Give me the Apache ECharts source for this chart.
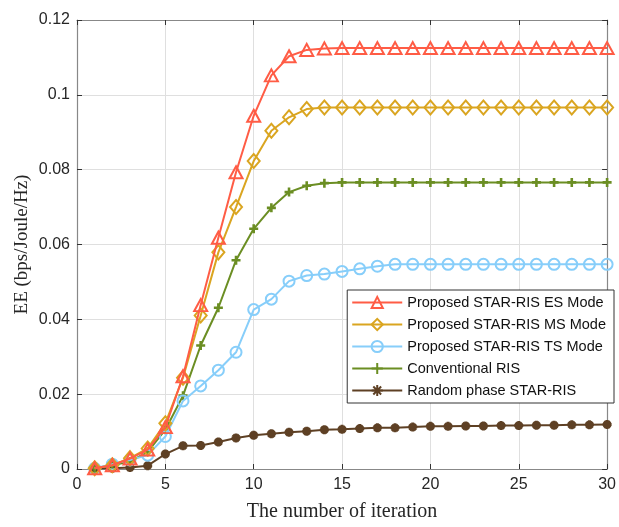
<!DOCTYPE html>
<html>
<head>
<meta charset="utf-8">
<script src="https://cdn.jsdelivr.net/npm/echarts@6/dist/echarts.min.js"></script>
<style>
html,body{margin:0;padding:0;background:#fff;}
#chart{width:619px;height:527px;}
</style>
</head>
<body>
<div id="chart"></div>
<script>
// ---- data ----
const iterations = [1,2,3,4,5,6,7,8,9,10,11,12,13,14,15,16,17,18,19,20,21,22,23,24,25,26,27,28,29,30];
const seriesNames = ['Proposed STAR-RIS ES Mode','Proposed STAR-RIS MS Mode','Proposed STAR-RIS TS Mode','Conventional RIS','Random phase STAR-RIS'];
const esMode = [0.0002,0.0010,0.0028,0.0052,0.0112,0.0248,0.0438,0.0618,0.0793,0.0944,0.1052,0.1103,0.1120,0.1124,0.1125,0.1125,0.1125,0.1125,0.1125,0.1125,0.1125,0.1125,0.1125,0.1125,0.1125,0.1125,0.1125,0.1125,0.1125,0.1125];
const msMode = [0.0002,0.0010,0.0029,0.0055,0.0122,0.0244,0.0410,0.0579,0.0700,0.0823,0.0904,0.0940,0.0962,0.0966,0.0966,0.0966,0.0966,0.0966,0.0966,0.0966,0.0966,0.0966,0.0966,0.0966,0.0966,0.0966,0.0966,0.0966,0.0966,0.0966];
const tsMode = [0.0002,0.0013,0.0024,0.0037,0.0087,0.0182,0.0222,0.0264,0.0312,0.0426,0.0454,0.0502,0.0517,0.0521,0.0528,0.0535,0.0542,0.0547,0.0547,0.0547,0.0547,0.0547,0.0547,0.0547,0.0547,0.0547,0.0547,0.0547,0.0547,0.0547];
const conventional = [0.0002,0.0010,0.0020,0.0046,0.0105,0.0196,0.0330,0.0431,0.0558,0.0642,0.0698,0.0740,0.0757,0.0764,0.0766,0.0766,0.0766,0.0766,0.0766,0.0766,0.0766,0.0766,0.0766,0.0766,0.0766,0.0766,0.0766,0.0766,0.0766,0.0766];
const randomPhase = [0.0002,0.0002,0.0004,0.0009,0.0040,0.0062,0.0063,0.0072,0.0083,0.0090,0.0094,0.0098,0.0101,0.0105,0.0106,0.0108,0.0110,0.0110,0.0112,0.0114,0.0114,0.0115,0.0115,0.0116,0.0116,0.0117,0.0117,0.0118,0.0118,0.0119];
const xTicks = [0,5,10,15,20,25,30];
const yTicks = ['0','0.02','0.04','0.06','0.08','0.1','0.12'];

// ---- styles ----
const colors = ['#FF5C45','#DAA520','#87CEFA','#6B8E23','#5E4024'];
const symbols = ['triangle','diamond','circle','path://M5,0L5,10M0,5L10,5','path://M5,0L5,10M0,5L10,5M1.5,1.5L8.5,8.5M8.5,1.5L1.5,8.5'];
const symbolSizes = [[13,12],[12,14],[11,11],[9,9],[9,9]];
const borderWidths = [2, 2, 2, 2.6, 3];
const dataSets = [esMode, msMode, tsMode, conventional, randomPhase];

const chart = echarts.init(document.getElementById('chart'), null, {renderer:'canvas'});
const axisLineColor = '#888888';
const labelFont = {fontFamily:'Liberation Sans, Arial, sans-serif', fontSize:16, color:'#262626'};

const series = dataSets.map((d, i) => ({
  name: seriesNames[i],
  type: 'line',
  xAxisIndex: 0, yAxisIndex: 0,
  data: iterations.map((x, k) => [x, d[k]]),
  symbol: symbols[i],
  symbolSize: symbolSizes[i],
  showAllSymbol: true,
  lineStyle: {color: colors[i], width: 2},
  itemStyle: {color: (i >= 3 ? colors[i] : 'rgba(255,255,255,0)'), borderColor: colors[i], borderWidth: borderWidths[i]},
  emphasis: {disabled: true},
  animation: false,
  z: 2 + (4 - i)
}));

chart.setOption({
  backgroundColor: '#ffffff',
  animation: false,
  grid: {left: 77, right: 6, top: 20, bottom: 53, containLabel: false},
  legend: {
    orient: 'vertical',
    right: 5, top: 290,
    backgroundColor: '#ffffff',
    borderColor: '#333333', borderWidth: 1,
    padding: [5, 8, 5, 4],
    itemWidth: 50, itemHeight: 14, itemGap: 7,
    textStyle: {fontFamily: 'Liberation Sans, Arial, sans-serif', fontSize: 14.5, color: '#111'},
    data: seriesNames
  },
  xAxis: [{
    type: 'value', min: 0, max: 30, interval: 5,
    name: 'The number of iteration', nameLocation: 'middle', nameGap: 33, nameMoveOverlap: false,
    nameTextStyle: {fontFamily: 'Liberation Serif, Times New Roman, serif', fontSize: 20, color: '#262626'},
    axisLine: {show: true, onZero: false, lineStyle: {color: axisLineColor, width: 1.2}},
    axisTick: {show: true, inside: true, length: 5, lineStyle: {color: '#333'}},
    axisLabel: Object.assign({margin: 8, formatter: v => String(v)}, labelFont),
    splitLine: {show: true, lineStyle: {color: '#dfdfdf', width: 1}}
  },{
    type: 'value', min: 0, max: 30, interval: 5, position: 'top',
    axisLine: {show: true, onZero: false, lineStyle: {color: axisLineColor, width: 1.2}},
    axisTick: {show: true, inside: true, length: 5, lineStyle: {color: '#333'}},
    axisLabel: {show: false}, splitLine: {show: false}
  }],
  yAxis: [{
    type: 'value', min: 0, max: 0.12, interval: 0.02,
    name: 'EE (bps/Joule/Hz)', nameLocation: 'middle', nameGap: 45, nameMoveOverlap: false,
    nameTextStyle: {fontFamily: 'Liberation Serif, Times New Roman, serif', fontSize: 19, color: '#262626'},
    axisLine: {show: true, onZero: false, lineStyle: {color: axisLineColor, width: 1.2}},
    axisTick: {show: true, inside: true, length: 5, lineStyle: {color: '#333'}},
    axisLabel: Object.assign({margin: 7, formatter: (v) => { const idx = Math.round(v / 0.02); return yTicks[idx] !== undefined ? yTicks[idx] : ''; }}, labelFont),
    splitLine: {show: true, lineStyle: {color: '#dfdfdf', width: 1}}
  },{
    type: 'value', min: 0, max: 0.12, interval: 0.02, position: 'right',
    axisLine: {show: true, onZero: false, lineStyle: {color: axisLineColor, width: 1.2}},
    axisTick: {show: true, inside: true, length: 5, lineStyle: {color: '#333'}},
    axisLabel: {show: false}, splitLine: {show: false}
  }],
  series: series
});
</script>
</body>
</html>
